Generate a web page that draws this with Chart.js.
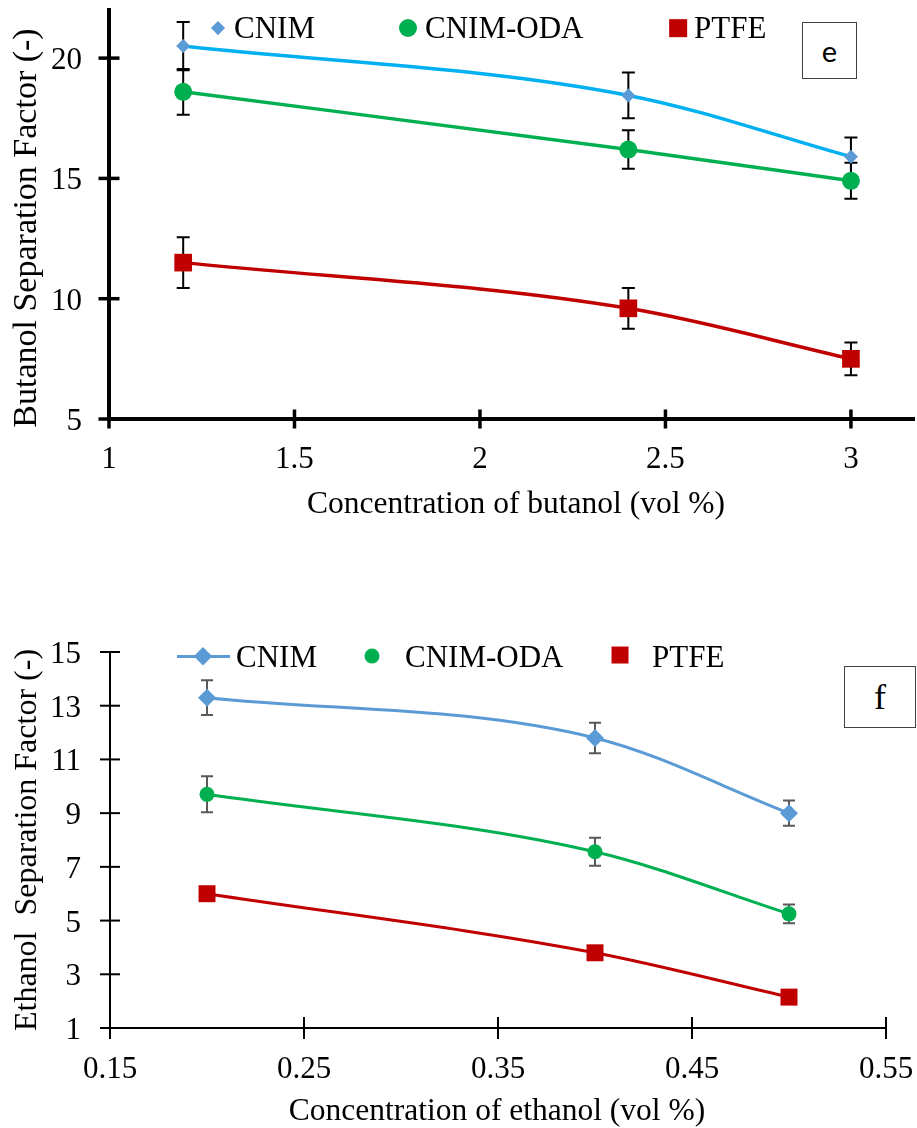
<!DOCTYPE html>
<html>
<head>
<meta charset="utf-8">
<title>Separation factor vs. alcohol concentration</title>
<script src="https://cdn.jsdelivr.net/npm/chart.js@4.4.1/dist/chart.umd.min.js"></script>
<style>
  html, body { margin: 0; padding: 0; background: #fff; }
  #wrap { position: relative; width: 917px; height: 1128px; overflow: hidden;
          font-family: "Liberation Serif", "Times New Roman", serif; color: #000; }
  canvas { position: absolute; left: 0; top: 0; }
  .layer { position: absolute; left: 0; top: 0; width: 0; height: 0; }
  .title { position: absolute; white-space: pre; line-height: 1; }
  .ytitle { transform: translate(-50%, -50%) rotate(-90deg); }
  .xtitle { transform: translate(-50%, -50%); }
  .tag { position: absolute; box-sizing: border-box; border: 1.5px solid #404040;
         display: flex; align-items: center; justify-content: center; background: #fff; }
  .tick { position: absolute; font-size: 31px; line-height: 1; white-space: nowrap; }
  .xtick { transform: translate(-50%, -50%); }
  .ytick { transform: translate(-100%, -50%); }
  .mk { position: absolute; }
  .lgline { position: absolute; }
  .lgtext { position: absolute; font-size: 31px; line-height: 1; white-space: nowrap; }
</style>
</head>
<body>
<div id="wrap">
  <canvas id="butanolChart" width="917" height="1128"></canvas>
  <canvas id="ethanolChart" width="917" height="1128"></canvas>
  <div id="butanolText" class="layer"></div>
  <div id="ethanolText" class="layer"></div>

  <div class="title ytitle" style="left:25px; top:228px; font-size:34px;">Butanol Separation Factor (-)</div>
  <div class="title xtitle" style="left:516px; top:503px; font-size:31.5px;">Concentration of butanol (vol %)</div>
  <div class="tag" style="left:802px; top:22px; width:55px; height:57px; font-family:Lato,'Open Sans',sans-serif; font-size:29px;">e</div>

  <div class="title ytitle" style="left:25px; top:840px; font-size:32px;">Ethanol  Separation Factor (-)</div>
  <div class="title xtitle" style="left:497px; top:1110px; font-size:31.5px;">Concentration of ethanol (vol %)</div>
  <div class="tag" style="left:844px; top:666px; width:72px; height:62px; font-size:36px;">f</div>
</div>

<script>
// ---------- data: panel (e), butanol ----------
const butanolConc   = [1.2, 2.4, 3.0];
const butanolCnim   = [20.5, 18.45, 15.9];
const butanolCnimErr= [1.0, 0.95, 0.8];
const butanolOda    = [18.6, 16.2, 14.9];
const butanolOdaErr = [0.95, 0.8, 0.75];
const butanolPtfe   = [11.5, 9.6, 7.5];
const butanolPtfeErr= [1.05, 0.85, 0.68];
const butanolXTicks = [1, 1.5, 2, 2.5, 3];
const butanolYTicks = [5, 10, 15, 20];

// ---------- data: panel (f), ethanol ----------
const ethanolConc   = [0.2, 0.4, 0.5];
const ethanolCnim   = [13.3, 11.8, 9.0];
const ethanolCnimErr= [0.65, 0.57, 0.47];
const ethanolOda    = [9.7, 7.56, 5.25];
const ethanolOdaErr = [0.67, 0.52, 0.35];
const ethanolPtfe   = [6.0, 3.8, 2.15];
const ethanolXTicks = [0.15, 0.25, 0.35, 0.45, 0.55];
const ethanolYTicks = [1, 3, 5, 7, 9, 11, 13, 15];

const seriesNames = ['CNIM', 'CNIM-ODA', 'PTFE'];

const BLUE_MARK = '#5B9BD5', BLUE_LINE = '#00B0F0', GREEN = '#00B050', RED = '#C00000';
const PAGE_W = 917, PAGE_H = 1128;
const BASELINE = 26;   // baseline offset of a 31px line box with line-height 1

const pts = (xs, ys) => xs.map((x, i) => ({ x, y: ys[i] }));

function el(cls) {
  const d = document.createElement('div');
  d.className = cls;
  return d;
}

// tick marks that cross the axis line on both sides
const crossTicks = {
  id: 'crossTicks',
  afterDraw(chart, args, o) {
    const { ctx } = chart;
    const xs = chart.scales.x, ys = chart.scales.y;
    const area = chart.chartArea;
    ctx.save();
    ctx.strokeStyle = o.color;
    ctx.lineWidth = o.width;
    xs.ticks.forEach(t => {
      const px = xs.getPixelForValue(t.value);
      ctx.beginPath(); ctx.moveTo(px, area.bottom - o.xLen); ctx.lineTo(px, area.bottom + o.xLen); ctx.stroke();
    });
    ys.ticks.forEach(t => {
      const py = ys.getPixelForValue(t.value);
      ctx.beginPath(); ctx.moveTo(area.left - o.yLen, py); ctx.lineTo(area.left + o.yLen, py); ctx.stroke();
    });
    ctx.restore();
  }
};

// vertical error bars with caps
const errorBars = {
  id: 'errorBars',
  beforeDatasetsDraw(chart, args, o) {
    const { ctx } = chart;
    const xs = chart.scales.x, ys = chart.scales.y;
    ctx.save();
    ctx.strokeStyle = o.color;
    ctx.lineWidth = o.width;
    chart.data.datasets.forEach((ds, di) => {
      const err = o.errors[di];
      if (!err) return;
      ds.data.forEach((p, i) => {
        const px = xs.getPixelForValue(p.x);
        const top = ys.getPixelForValue(p.y + err[i]);
        const bot = ys.getPixelForValue(p.y - err[i]);
        ctx.beginPath();
        ctx.moveTo(px, top); ctx.lineTo(px, bot);
        ctx.moveTo(px - o.cap, top); ctx.lineTo(px + o.cap, top);
        ctx.moveTo(px - o.cap, bot); ctx.lineTo(px + o.cap, bot);
        ctx.stroke();
      });
    });
    ctx.restore();
  }
};

// tick labels and inset legend as page text, placed from the chart's scales
const textLayer = {
  id: 'textLayer',
  afterRender(chart, args, o) {
    const layer = document.getElementById(o.layer);
    layer.innerHTML = '';
    const xs = chart.scales.x, ys = chart.scales.y, area = chart.chartArea;

    xs.ticks.forEach(t => {
      const d = el('tick xtick');
      d.textContent = String(t.value);
      d.style.left = xs.getPixelForValue(t.value) + 'px';
      d.style.top = (area.bottom + o.xOffset) + 'px';
      layer.appendChild(d);
    });
    ys.ticks.forEach(t => {
      const d = el('tick ytick');
      d.textContent = String(t.value);
      d.style.left = (area.left - o.yGap) + 'px';
      d.style.top = ys.getPixelForValue(t.value) + 'px';
      layer.appendChild(d);
    });

    chart.data.datasets.forEach((ds, i) => {
      const it = o.legend[i];
      if (it.line) {
        const ln = el('lgline');
        ln.style.left = it.line[0] + 'px';
        ln.style.top = (it.my - ds.borderWidth / 2) + 'px';
        ln.style.width = (it.line[1] - it.line[0]) + 'px';
        ln.style.height = ds.borderWidth + 'px';
        ln.style.background = ds.borderColor;
        layer.appendChild(ln);
      }
      const r = it.r ?? ds.pointRadius;
      const mk = el('mk');
      let size, rot = '';
      if (ds.pointStyle === 'rectRot') { size = r * Math.SQRT2; rot = ' rotate(45deg)'; }
      else if (ds.pointStyle === 'rect') { size = r * Math.SQRT2; }
      else { size = 2 * r; mk.style.borderRadius = '50%'; }
      mk.style.width = size + 'px';
      mk.style.height = size + 'px';
      mk.style.left = it.mx + 'px';
      mk.style.top = it.my + 'px';
      mk.style.transform = 'translate(-50%, -50%)' + rot;
      mk.style.background = ds.pointBackgroundColor;
      layer.appendChild(mk);

      const tx = el('lgtext');
      tx.textContent = ds.label;
      tx.style.left = it.tx + 'px';
      tx.style.top = (it.ty - BASELINE) + 'px';
      layer.appendChild(tx);
    });
  }
};

function fixedTicks(ticksArr) {
  return function (scale) {
    scale.ticks = ticksArr.map(v => ({ value: v }));
  };
}
function fixedSize(size) {
  return function (scale) {
    if (scale.isHorizontal()) scale.height = size; else scale.width = size;
    scale.paddingLeft = scale.paddingRight = scale.paddingTop = scale.paddingBottom = 0;
  };
}

function makeChart(id, cfg) {
  const a = cfg.area;
  return new Chart(document.getElementById(id), {
    type: 'line',
    data: { datasets: cfg.datasets },
    options: {
      responsive: false,
      animation: false,
      events: [],
      layout: { autoPadding: false, padding: { left: 0, bottom: 0, top: a.top, right: PAGE_W - a.right } },
      elements: { line: { cubicInterpolationMode: 'monotone', fill: false } },
      scales: {
        x: {
          type: 'linear', min: cfg.xMin, max: cfg.xMax,
          afterBuildTicks: fixedTicks(cfg.xTicks), afterFit: fixedSize(PAGE_H - a.bottom),
          grid: { display: false, drawTicks: false },
          border: { display: true, color: '#000', width: cfg.axisWidth },
          ticks: { display: false, autoSkip: false }
        },
        y: {
          type: 'linear', min: cfg.yMin, max: cfg.yMax,
          afterBuildTicks: fixedTicks(cfg.yTicks), afterFit: fixedSize(a.left),
          grid: { display: false, drawTicks: false },
          border: { display: true, color: '#000', width: cfg.axisWidth },
          ticks: { display: false, autoSkip: false }
        }
      },
      plugins: {
        legend: { display: false },
        tooltip: { enabled: false },
        crossTicks: cfg.ticks,
        errorBars: cfg.errors,
        textLayer: cfg.text
      }
    },
    plugins: [errorBars, crossTicks, textLayer]
  });
}

// panel (e)
makeChart('butanolChart', {
  area: { left: 109, top: 10, right: 914, bottom: 419 },
  xMin: 1, xMax: 3.17, yMin: 5, yMax: 22,
  xTicks: butanolXTicks, yTicks: butanolYTicks,
  axisWidth: 4,
  ticks: { color: '#000', width: 3.5, xLen: 9.5, yLen: 10.5 },
  errors: { color: '#000', width: 2, cap: 6.5, errors: [butanolCnimErr, butanolOdaErr, butanolPtfeErr] },
  text: {
    layer: 'butanolText', xOffset: 38, yGap: 27,
    legend: [
      { mx: 218, my: 28, tx: 234, ty: 38 },
      { mx: 408, my: 28, tx: 425, ty: 38 },
      { mx: 678, my: 28, tx: 694, ty: 38 }
    ]
  },
  datasets: [
    { label: seriesNames[0], data: pts(butanolConc, butanolCnim), borderColor: BLUE_LINE, borderWidth: 3.5,
      pointStyle: 'rectRot', pointRadius: 7, pointBackgroundColor: BLUE_MARK, pointBorderWidth: 0 },
    { label: seriesNames[1], data: pts(butanolConc, butanolOda), borderColor: GREEN, borderWidth: 3.5,
      pointStyle: 'circle', pointRadius: 9, pointBackgroundColor: GREEN, pointBorderWidth: 0 },
    { label: seriesNames[2], data: pts(butanolConc, butanolPtfe), borderColor: RED, borderWidth: 3.5,
      pointStyle: 'rect', pointRadius: 12.5, pointBackgroundColor: RED, pointBorderWidth: 0 }
  ]
});

// panel (f)
makeChart('ethanolChart', {
  area: { left: 110, top: 652, right: 886, bottom: 1028 },
  xMin: 0.15, xMax: 0.55, yMin: 1, yMax: 15,
  xTicks: ethanolXTicks, yTicks: ethanolYTicks,
  axisWidth: 2,
  ticks: { color: '#000', width: 2, xLen: 11, yLen: 10 },
  errors: { color: '#595959', width: 2, cap: 6, errors: [ethanolCnimErr, ethanolOdaErr, null] },
  text: {
    layer: 'ethanolText', xOffset: 39, yGap: 29,
    legend: [
      { mx: 203, my: 656, tx: 236, ty: 667, line: [177, 230] },
      { mx: 372, my: 656, tx: 405, ty: 667 },
      { mx: 620, my: 655, tx: 652, ty: 667, r: 12 }
    ]
  },
  datasets: [
    { label: seriesNames[0], data: pts(ethanolConc, ethanolCnim), borderColor: BLUE_MARK, borderWidth: 3,
      pointStyle: 'rectRot', pointRadius: 9, pointBackgroundColor: BLUE_MARK, pointBorderWidth: 0 },
    { label: seriesNames[1], data: pts(ethanolConc, ethanolOda), borderColor: GREEN, borderWidth: 3,
      pointStyle: 'circle', pointRadius: 7.5, pointBackgroundColor: GREEN, pointBorderWidth: 0 },
    { label: seriesNames[2], data: pts(ethanolConc, ethanolPtfe), borderColor: RED, borderWidth: 3,
      pointStyle: 'rect', pointRadius: 12, pointBackgroundColor: RED, pointBorderWidth: 0 }
  ]
});
</script>
</body>
</html>
